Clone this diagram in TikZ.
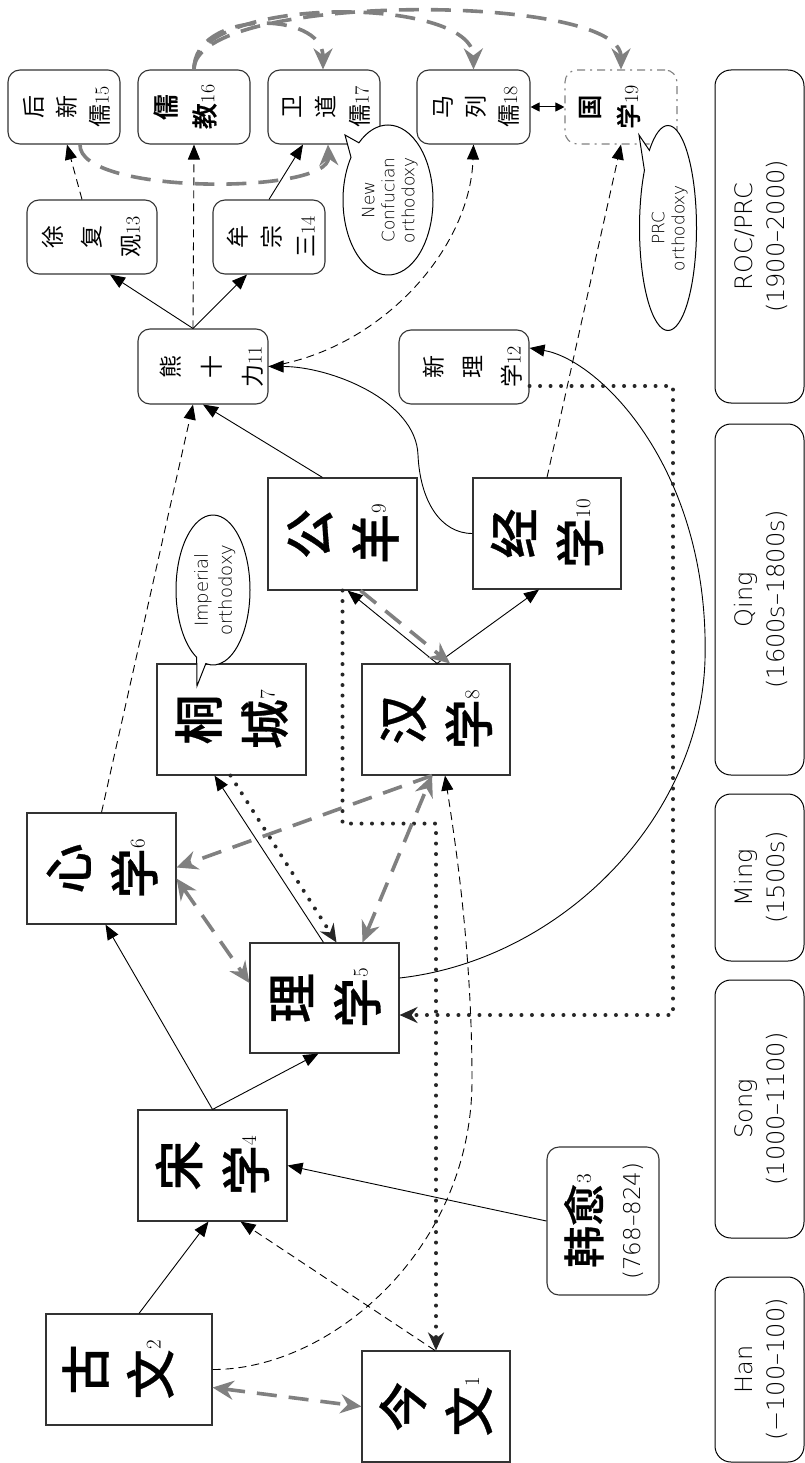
\documentclass[tikz,border=0pt]{standalone}
\usepackage{fontspec}
\usepackage{graphicx}
\usetikzlibrary{arrows.meta,shapes.callouts,calc}
\newfontfamily\cjk{Noto Sans CJK SC}
\IfFontExistsTF{Noto Sans CJK SC Medium}{\newfontfamily\cjkb{Noto Sans CJK SC Medium}[FakeBold=0.6]}{\newfontfamily\cjkb{Noto Sans CJK SC}[FakeBold=1.5]}
\IfFontExistsTF{DejaVu Sans ExtraLight}{\newfontfamily\lite{DejaVu Sans ExtraLight}}{\newfontfamily\lite{DejaVu Sans}}
% rotated stacked text: [shift in px to image right]{font}{size}{pitch}{body}
\newcommand\rt[5][0]{\rotatebox{90}{#2\fontsize{#3}{#4}\selectfont\begin{tabular}{@{}c@{}}#5\\[\dimexpr 4\dimexpr#4pt\relax/10-76\dimexpr#3pt\relax/100-2\dimexpr#1pt\relax\relax]\end{tabular}}}
\newcommand\sidx[1]{\raisebox{9pt}{\rmfamily\mdseries\fontsize{21}{21}\selectfont #1}}
\newcommand\nidx[1]{{\rmfamily\mdseries\fontsize{20}{20}\selectfont #1}}
\tikzset{
  sq/.style={draw=black!80, line width=1.1pt, fill=white, minimum width=149pt, minimum height=111pt, inner sep=0pt},
  rb/.style={sq, rounded corners=12pt, minimum width=112pt, minimum height=74pt},
  era/.style={draw=black, line width=1pt, rounded corners=16pt, minimum width=89pt, inner sep=0pt},
  bubble/.style={ellipse callout, draw=black, line width=1pt, fill=white, inner sep=0pt},
  btip/.tip={Triangle[length=15pt,width=12pt]},
  gtip/.tip={Stealth[length=21pt,width=19pt,inset=7pt]},
  dtip/.tip={Stealth[length=18pt,width=16pt,inset=6pt]},
  stip/.tip={Triangle[length=9pt,width=9pt]},
  solidarr/.style={draw=black, line width=0.9pt, -btip},
  dasharr/.style={solidarr, dash pattern=on 8pt off 5pt},
  greyarr/.style={draw=black!50, line width=3.6pt, dash pattern=on 20pt off 12pt, -gtip},
  greydbl/.style={greyarr, gtip-gtip},
  dotarr/.style={draw=black!85, line width=4pt, line cap=round, dash pattern=on 0pt off 10.5pt, -dtip},
  smalldbl/.style={draw=black, line width=1pt, stip-stip},
}
\begin{document}
\begin{tikzpicture}[x=1pt,y=-1pt]
\fill[white] (0,0) rectangle (805,1463);
\useasboundingbox (0,0) rectangle (805,1463);

% ---- era boxes
\node[era, minimum height=333pt] (roc) at (759.5,236.5) {\rt{\lite}{24}{32}{ROC/PRC\\(1900–2000)}};
\node[era, minimum height=351pt] (qing) at (759.5,599.5) {\rt{\lite}{24}{32}{Qing\\(1600s–1800s)}};
\node[era, minimum height=167pt] (ming) at (759.5,877.5) {\rt{\lite}{24}{32}{Ming\\(1500s)}};
\node[era, minimum height=258pt] (song) at (759.5,1109) {\rt{\lite}{24}{32}{Song\\(1000–1100)}};
\node[era, minimum height=185pt] (han) at (759.5,1369.5) {\rt{\lite}{24}{32}{Han\\(−100–100)}};

% ---- big boxes
\node[sq, minimum width=148pt] (n1) at (436,1406.5) {\rt{\cjkb}{50}{66}{今\\文\sidx{1}}};
\node[sq, minimum width=166pt] (n2) at (129,1369.5) {\rt[-11]{\cjkb}{50}{65}{古\\文\sidx{2}}};
\node[sq] (n4) at (212.5,1165.5) {\rt{\cjkb}{50}{67}{宋\\学\sidx{4}}};
\node[sq, minimum height=110pt] (n5) at (324.5,998) {\rt{\cjkb}{50}{66}{理\\学\sidx{5}}};
\node[sq] (n6) at (101.5,868.5) {\rt{\cjkb}{50}{66}{心\\学\sidx{6}}};
\node[sq] (n7) at (231.5,719.5) {\rt{\cjkb}{50}{66}{桐\\城\sidx{7}}};
\node[sq, minimum width=148pt] (n8) at (436,719.5) {\rt{\cjkb}{50}{66}{汉\\学\sidx{8}}};
\node[sq, minimum height=112pt] (n9) at (342.5,534) {\rt{\cjkb}{50}{66}{公\\羊\sidx{9}}};
\node[sq, minimum width=148pt] (n10) at (547,533.5) {\rt{\cjkb}{50}{66}{经\\学\sidx{10}}};

\node[rb, minimum height=148pt] (n3) at (603,1221) {\rotatebox{90}{\fontsize{23}{50}\selectfont\begin{tabular}{@{}c@{}}{\cjkb\fontsize{42}{42}\selectfont 韩愈}\sidx{3}\\[-9pt]{\lite (768–824)}\\[-14pt]\end{tabular}}};

% ---- small boxes
\node[rb, minimum width=130pt, minimum height=75pt] (n11) at (203,366.5) {\rt[9]{\cjk}{23}{41}{熊\\十\\力\nidx{11}}};
\node[rb, minimum width=130pt] (n12) at (464,367) {\rt[9]{\cjk}{23}{39}{新\\理\\学\nidx{12}}};
\node[rb, minimum width=130pt] (n13) at (92,237) {\rt{\cjk}{23}{39}{徐\\复\\观\nidx{13}}};
\node[rb] (n14) at (269,237) {\rt[3]{\cjk}{23}{34}{牟\\宗\\三\nidx{14}}};
\node[rb] (n15) at (64,107) {\rt[3]{\cjk}{23}{33}{后\\新\\儒\nidx{15}}};
\node[rb] (n16) at (194,107) {\rt[-9]{\cjkb}{26}{39}{儒\\教\nidx{16}}};
\node[rb] (n17) at (324,107) {\rt[2]{\cjk}{23}{34}{卫\\道\\儒\nidx{17}}};
\node[rb, minimum width=113pt] (n18) at (473.5,107) {\rt[2]{\cjk}{23}{33}{马\\列\\儒\nidx{18}}};
\node[rb, draw=black!50, dash pattern=on 8pt off 5pt on 2pt off 5pt] (n19) at (621,107) {\rt[-12]{\cjkb}{25}{39}{国\\学\nidx{19}}};

% ---- callouts
\node[bubble, minimum width=74pt, minimum height=150pt, callout absolute pointer={(197,686)}] (b7) at (213,590) {\rt{\lite}{18}{24}{Imperial\\orthodoxy}};
\node[bubble, minimum width=90pt, minimum height=150pt, callout absolute pointer={(345,135)}] (b17) at (388,200) {\rt{\lite}{17}{20}{New\\Confucian\\orthodoxy}};
\node[bubble, minimum width=57pt, minimum height=205pt, callout absolute pointer={(639,135)}] (b19) at (668,228) {\rt{\lite}{17}{20}{PRC\\orthodoxy}};

% ---- connectors: Han / Song
\draw[solidarr] ($(n2.north)+(10,0)$) -- ($(n4.south)+(-4,0)$);
\draw[dasharr] ($(n1.north)+(-1,0)$) -- ($(n4.south)+(28,0)$);
\draw[greydbl] ($(n2.east)+(0,18)$) -- (n1.west);
\draw[dasharr] (n2.east) .. controls (330,1370) and (472,1250) .. (472,1080) .. controls (472,950) and (455,840) .. ($(n8.south)+(9,0)$);
\draw[dotarr] (n9.south) -- ++(0,233) -| (n1.north);
\draw[solidarr] (n3.west) -- (n4.east);
\draw[solidarr] (n4.north) -- ($(n5.south)+(-6,0)$);
\draw[solidarr] (n4.north) -- ($(n6.south)+(4,0)$);

% ---- Ming / Qing
\draw[solidarr] ($(n8.north)+(1,0)$) -- ($(n9.south)+(5,0)$);
\draw[solidarr] ($(n8.north)+(1,0)$) -- ($(n10.south)+(-8,0)$);
\draw[greyarr] ($(n9.south)+(18,0)$) -- ($(n8.north)+(14,0)$);
\draw[greyarr] ($(n8.south)+(-4,0)$) -- ($(n6.east)+(0,-1)$);
\draw[greydbl] ($(n5.north)+(38,0)$) -- ($(n8.south)+(-4,0)$);
\draw[greydbl] ($(n6.east)+(0,10)$) -- ($(n5.west)+(0,-15)$);
\draw[dotarr] ($(n7.south)+(-1,0)$) -- ($(n5.north)+(12,0)$);
\draw[solidarr] ($(n5.north)+(-1,0)$) -- ($(n7.south)+(-17,0)$);

% ---- to the 20th century
\draw[dasharr] (n6.north) -- ($(n11.south)+(-10,0)$);
\draw[solidarr] ($(n9.north)+(-20,0)$) -- (n11.south);
\draw[solidarr] (n10.west) .. controls (440,533.5) and (420,500) .. (418,455) .. controls (416,400) and (330,366.5) .. (n11.east);
\draw[dasharr] (n11.east) .. controls (380,350) and (470,250) .. (n18.south);
\draw[dasharr] (n10.north) -- (n19.south);
\draw[solidarr] ($(n5.east)+(0,-20)$) .. controls (560,960) and (700,820) .. (705,660) .. controls (710,470) and (600,360) .. ($(n12.east)+(0,-19)$);
\coordinate (dk) at (673,700);
\draw[dotarr] ($(n12.east)+(0,19)$) -| (dk) |- ($(n5.east)+(0,17)$);

% ---- 20th century
\draw[solidarr] ($(n11.north)+(-10,0)$) -- ($(n13.south)+(18,0)$);
\draw[solidarr] ($(n11.north)+(-10,0)$) -- ($(n14.south)+(-22,0)$);
\draw[dasharr] ($(n11.north)+(-10,0)$) -- (n16.south);
\draw[dasharr] ($(n13.north)+(-10,0)$) -- ($(n15.south)+(3,0)$);
\draw[solidarr] (n14.north) -- ($(n17.south)+(-21,0)$);
\draw[greyarr] ($(n15.south)+(16,0)$) .. controls (78,195) and (330,195) .. ($(n17.south)+(4,0)$);
\draw[greyarr] (n16.north) .. controls (194,10) and (323,10) .. ($(n17.north)+(-1,0)$);
\draw[greyarr] (n16.north) .. controls (194,-5) and (473,-5) .. (n18.north);
\draw[greyarr] (n16.north) .. controls (194,-8) and (621,-8) .. (n19.north);
\draw[smalldbl] (n18.east) -- (n19.west);
\end{tikzpicture}
\end{document}
